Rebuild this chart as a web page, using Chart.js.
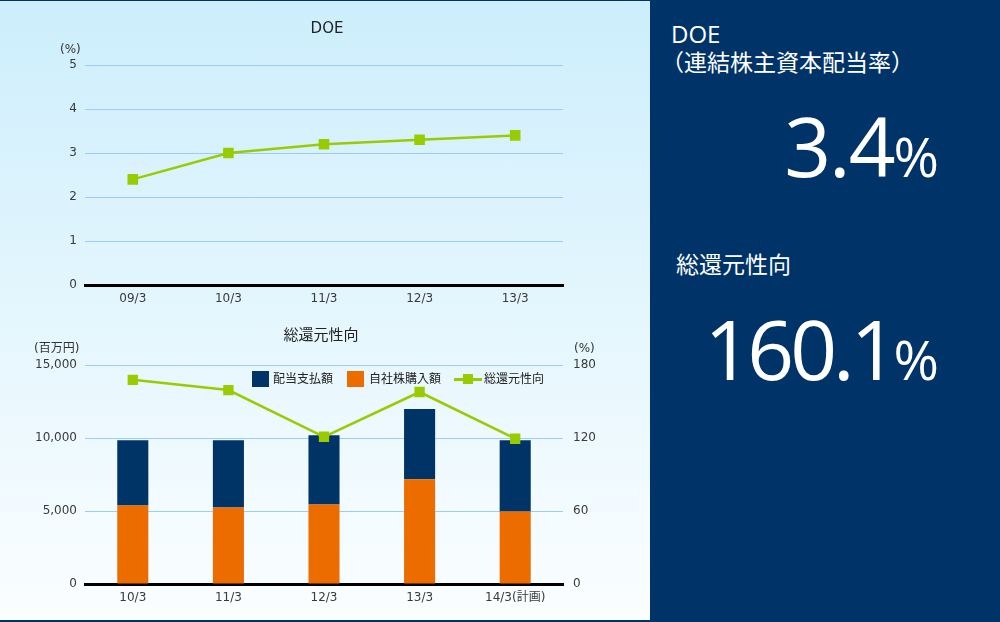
<!DOCTYPE html>
<html lang="ja">
<head>
<meta charset="utf-8">
<script src="https://cdn.jsdelivr.net/npm/chart.js@4.4.0/dist/chart.umd.min.js"></script>
<style>
  html, body { margin: 0; padding: 0; }
  body { width: 1000px; height: 622px; overflow: hidden; background: #fff; }
  #wrap { position: relative; width: 1000px; height: 622px; }
  #left { position: absolute; left: 0; top: 0; width: 650px; height: 622px;
          background: linear-gradient(#cdeefc, #fbfeff); }
  #right { position: absolute; left: 650px; top: 0; width: 350px; height: 622px; background: #003468; }
  #bTop { position: absolute; left: 0; top: 0; width: 1000px; height: 1px; background: #003468; }
  #bBot { position: absolute; left: 0; top: 620px; width: 1000px; height: 2px; background: #003468; }
  canvas { position: absolute; left: 0; }
  .t { position: absolute; white-space: nowrap; font-family: "DejaVu Sans", "Noto Sans CJK JP", sans-serif; color: #333; }
  .ttl { font-size: 15px; line-height: 18px; color: #222; text-align: center; width: 200px; }
  .unit { font-size: 12px; line-height: 14px; }
  .lg { font-size: 12px; line-height: 14px; top: 372px; color: #222; }
  .box { position: absolute; }
  .w { position: absolute; white-space: nowrap; color: #fff; }
  .lbl { font-family: "Open Sans", "Noto Sans CJK JP", sans-serif; font-size: 24px; line-height: 30px; }
  .cj { font-family: "Noto Sans CJK JP", sans-serif; font-size: 23px; line-height: 30px; }
  .big { font-family: "Open Sans", sans-serif; font-size: 82px; line-height: 82px; right: 61px; text-align: right; letter-spacing: -2px; }
  .big.narrow { letter-spacing: -4px; }
  .big span { font-size: 55px; letter-spacing: 0; }
</style>
</head>
<body>
<div id="wrap">
  <div id="left"></div>
  <div id="right"></div>

  <canvas id="g1" width="650" height="315" style="top:0px"></canvas>
  <canvas id="g2" width="650" height="300" style="top:320px"></canvas>

  <!-- textos dos gráficos -->
  <div class="t ttl" style="left:227px; top:19px;">DOE</div>
  <div class="t unit" style="left:60px; top:42px;">(%)</div>

  <div class="t ttl" style="left:221px; top:326px;">総還元性向</div>
  <div class="t unit" style="left:34px; top:341px;">(百万円)</div>
  <div class="t unit" style="left:574px; top:341px;">(%)</div>

  <!-- legenda -->
  <div class="box" style="left:252px; top:371px; width:17px; height:16px; background:#003366;"></div>
  <div class="t lg" style="left:273px;">配当支払額</div>
  <div class="box" style="left:347px; top:371px; width:17px; height:16px; background:#ec6c00;"></div>
  <div class="t lg" style="left:369px;">自社株購入額</div>
  <div class="box" style="left:454px; top:378px; width:28px; height:3px; background:#99cc00;"></div>
  <div class="box" style="left:463px; top:374px; width:10px; height:10px; background:#99cc00;"></div>
  <div class="t lg" style="left:484px;">総還元性向</div>

  <!-- painel direito -->
  <div class="w lbl" style="left:671px; top:19px;">DOE</div>
  <div class="w cj" style="left:661px; top:46px;">（連結株主資本配当率）</div>
  <div class="w big" style="top:104px;">3.4<span>%</span></div>
  <div class="w cj" style="left:676px; top:248px;">総還元性向</div>
  <div class="w big narrow" style="top:307px;">160.1<span>%</span></div>

  <div id="bTop"></div>
  <div id="bBot"></div>
</div>

<script>
// Dados do gráfico DOE
const doeLabels = ['09/3', '10/3', '11/3', '12/3', '13/3'];
const doeValues = [2.4, 3.0, 3.2, 3.3, 3.4];

// Dados do gráfico 総還元性向
const returnLabels = ['10/3', '11/3', '12/3', '13/3', '14/3(計画)'];
const buybackValues = [5380, 5240, 5450, 7170, 4970];     // 自社株購入額
const dividendValues = [4470, 4600, 4740, 4810, 4880];    // 配当支払額
const returnRatio = [167.8, 159.4, 121.0, 157.8, 119.4];  // 総還元性向 (%)

const green = '#99cc00';
const navy = '#003366';
const orange = '#ec6c00';
const gridColor = '#99ccff';

Chart.defaults.font.family = '"DejaVu Sans", "Noto Sans CJK JP", sans-serif';
Chart.defaults.font.size = 12;
Chart.defaults.color = '#3a3a3a';
Chart.defaults.animation = false;

// grade horizontal sem a linha do zero (o eixo x desenha a linha preta)
const gridNoZero = {
    drawTicks: false,
    color: (c) => c.tick && c.tick.value === 0 ? 'rgba(0,0,0,0)' : gridColor,
    lineWidth: 1
};

// Gráfico 1 - DOE
new Chart(document.getElementById('g1').getContext('2d'), {
    type: 'line',
    data: {
        labels: doeLabels,
        datasets: [{
            data: doeValues,
            borderColor: green,
            backgroundColor: green,
            borderWidth: 2.5,
            pointStyle: 'rect',
            pointRadius: 7.5,
            pointBorderWidth: 0,
            pointBackgroundColor: green,
            tension: 0
        }]
    },
    options: {
        responsive: false,
        layout: { padding: { top: 65, right: 87, left: 0, bottom: 0 } },
        plugins: { legend: { display: false }, tooltip: { enabled: false } },
        scales: {
            x: {
                offset: true,
                grid: { display: false, drawTicks: false },
                border: { display: true, color: '#000', width: 3 },
                ticks: { padding: 7 },
                afterFit: (s) => { s.height = 30; }
            },
            y: {
                min: 0,
                max: 5,
                ticks: { stepSize: 1, padding: 8 },
                grid: gridNoZero,
                border: { display: false },
                afterFit: (s) => { s.width = 85; }
            }
        }
    }
});

// Gráfico 2 - 総還元性向 (barras empilhadas + linha)
new Chart(document.getElementById('g2').getContext('2d'), {
    type: 'bar',
    data: {
        labels: returnLabels,
        datasets: [
            {
                type: 'line',
                label: '総還元性向',
                data: returnRatio,
                yAxisID: 'y1',
                order: 0,
                borderColor: green,
                backgroundColor: green,
                borderWidth: 2.5,
                pointStyle: 'rect',
                pointRadius: 7.3,
                pointBorderWidth: 0,
                pointBackgroundColor: green,
                tension: 0
            },
            {
                label: '自社株購入額',
                data: buybackValues,
                yAxisID: 'y',
                order: 1,
                backgroundColor: orange,
                barPercentage: 0.325,
                categoryPercentage: 1.0
            },
            {
                label: '配当支払額',
                data: dividendValues,
                yAxisID: 'y',
                order: 2,
                backgroundColor: navy,
                barPercentage: 0.325,
                categoryPercentage: 1.0
            }
        ]
    },
    options: {
        responsive: false,
        layout: { padding: { top: 45, right: 0, left: 0, bottom: 0 } },
        plugins: { legend: { display: false }, tooltip: { enabled: false } },
        scales: {
            x: {
                stacked: true,
                grid: { display: false, drawTicks: false },
                border: { display: true, color: '#000', width: 3 },
                ticks: { padding: 7 },
                afterFit: (s) => { s.height = 36; }
            },
            y: {
                stacked: true,
                position: 'left',
                min: 0,
                max: 15000,
                ticks: {
                    stepSize: 5000,
                    padding: 8,
                    callback: (v) => v.toLocaleString('en-US')
                },
                grid: gridNoZero,
                border: { display: false },
                afterFit: (s) => { s.width = 85; }
            },
            y1: {
                position: 'right',
                min: 0,
                max: 180,
                ticks: { stepSize: 60, padding: 10 },
                grid: { display: false, drawTicks: false },
                border: { display: false },
                afterFit: (s) => { s.width = 87; }
            }
        }
    }
});
</script>
</body>
</html>
